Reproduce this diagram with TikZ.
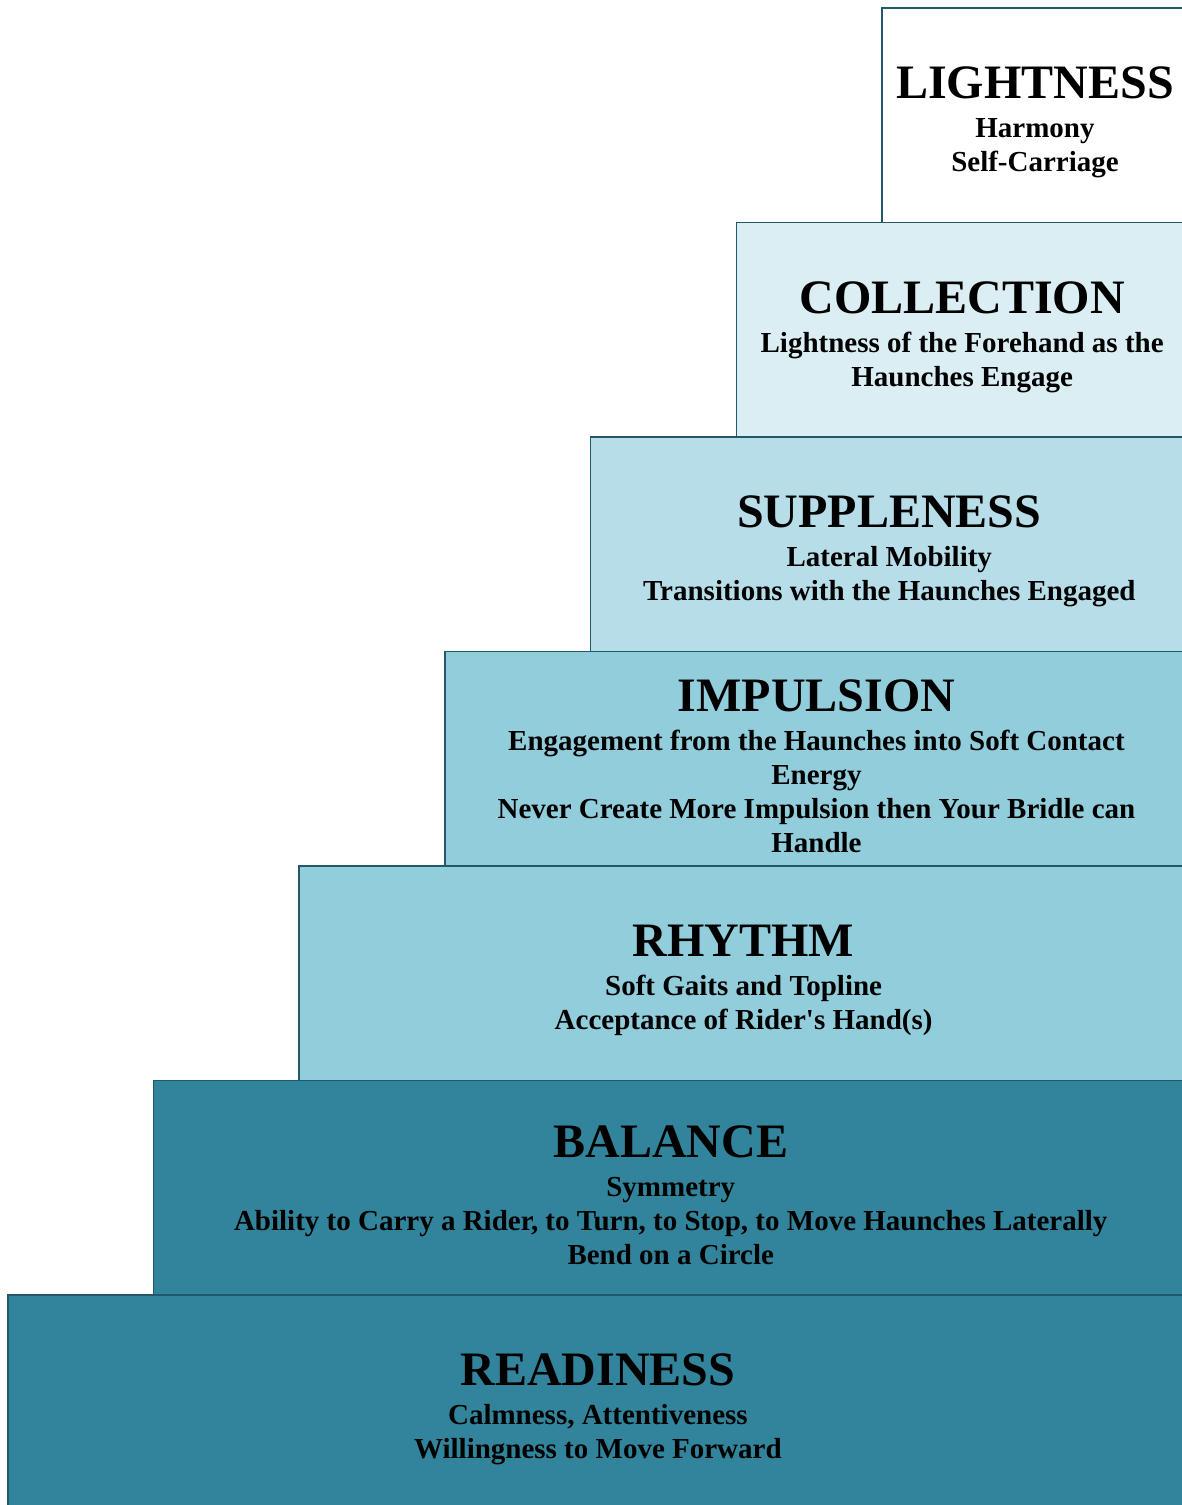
\documentclass[tikz,border=0pt]{standalone}
\usepackage{fontspec}
\setmainfont{Liberation Serif}[Ligatures=TeXOff]
\usetikzlibrary{positioning}

\definecolor{edge}{HTML}{215968}
\definecolor{aqua80}{HTML}{DAEEF3}
\definecolor{aqua60}{HTML}{B6DDE8}
\definecolor{aqua40}{HTML}{92CDDC}
\definecolor{aquadark}{HTML}{31849B}

\newcommand{\tierhead}[1]{{\fontsize{48}{52}\selectfont\rule{0pt}{46pt}#1}\\[5pt]}

\begin{document}
\begin{tikzpicture}[x=1pt, y=1pt,
  tier/.style={rectangle, draw=edge, line width=1.5pt, inner sep=0pt, outer sep=0pt,
    minimum height=214.5pt, align=center, text=black,
    font=\fontsize{29}{34}\selectfont\bfseries},
  down/.style={below=0pt of #1.south west, anchor=north west, xshift=-145.7pt}]
\useasboundingbox (0,0) rectangle (1182,1505);
\clip (0,0) rectangle (1182,1505);
\node[tier, fill=white, minimum width=306pt, anchor=north west] (lightness) at (882,1497)
  {\tierhead{LIGHTNESS}Harmony\\Self-Carriage};
\node[tier, fill=aqua80, minimum width=451.7pt, down=lightness] (collection)
  {\tierhead{COLLECTION}Lightness of the Forehand as the\\Haunches Engage};
\node[tier, fill=aqua60, minimum width=597.4pt, down=collection] (suppleness)
  {\tierhead{SUPPLENESS}Lateral Mobility\\Transitions with the Haunches Engaged};
\node[tier, fill=aqua40, minimum width=743.1pt, down=suppleness] (impulsion)
  {\tierhead{IMPULSION}Engagement from the Haunches into Soft Contact\\Energy\\Never Create More Impulsion then Your Bridle can\\Handle};
\node[tier, fill=aqua40, minimum width=888.8pt, down=impulsion] (rhythm)
  {\tierhead{RHYTHM}Soft Gaits and Topline\\Acceptance of Rider's Hand(s)};
\node[tier, fill=aquadark, minimum width=1034.5pt, down=rhythm] (balance)
  {\tierhead{BALANCE}Symmetry\\Ability to Carry a Rider, to Turn, to Stop, to Move Haunches Laterally\\Bend on a Circle};
\node[tier, fill=aquadark, minimum width=1180.2pt, down=balance] (readiness)
  {\tierhead{READINESS}Calmness, Attentiveness\\Willingness to Move Forward};
\end{tikzpicture}
\end{document}
